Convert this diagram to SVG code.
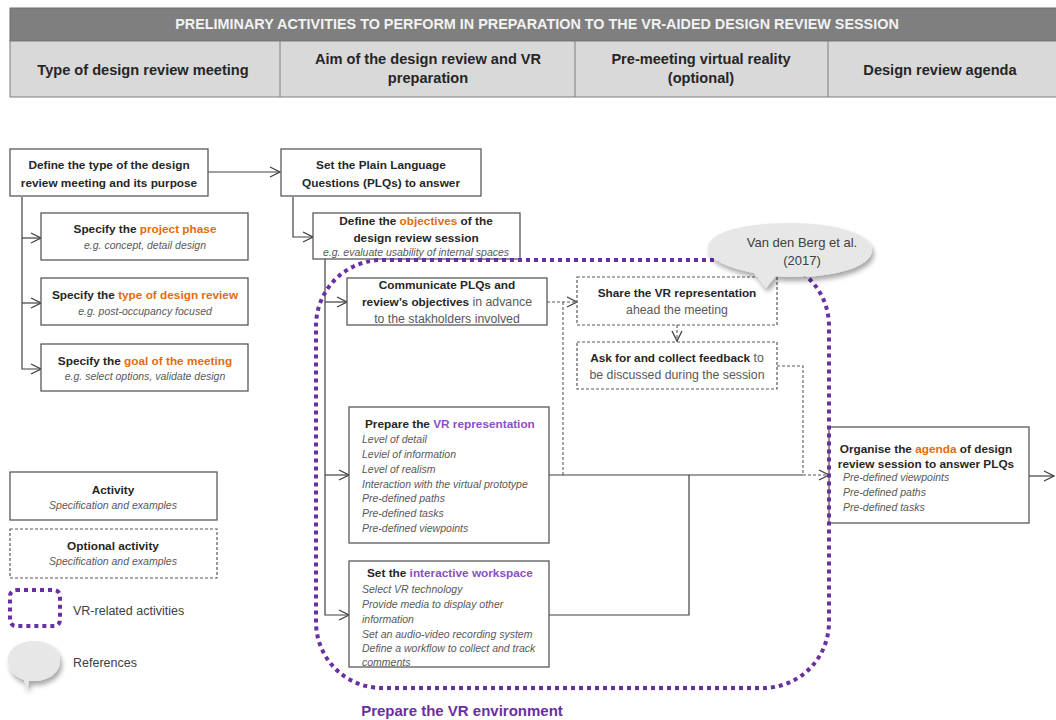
<svg xmlns="http://www.w3.org/2000/svg" width="1056" height="720" viewBox="0 0 1056 720">
  <style>
    text { font-family: "Liberation Sans Narrow", "Liberation Sans", Arial, sans-serif; }
    .b { font-weight: bold; fill: #262626; font-size: 11.8px; }
    .r { fill: #595959; font-size: 12.3px; }
    .i { font-style: italic; fill: #595959; font-size: 10.5px; }
    .or { fill: #e46c0a; }
    .pu { fill: #8a4fc8; }
    .hd { font-weight: bold; fill: #262626; font-size: 14.6px; }
    .box { fill: #ffffff; stroke: #595959; stroke-width: 1.3; }
    .opt { fill: #ffffff; stroke: #595959; stroke-width: 1.2; stroke-dasharray: 3 2; }
    .ln { fill: none; stroke: #404040; stroke-width: 1.2; }
    .dl { fill: none; stroke: #595959; stroke-width: 1.1; stroke-dasharray: 3 2; }
    .vr { fill: none; stroke: #6a2fa0; stroke-width: 4; stroke-dasharray: 4 4; }
    .bub { fill: #e7e7e7; filter: url(#shadow); }
    .c { text-anchor: middle; }
  </style>
  <defs>
    <marker id="arr" viewBox="0 0 12 12" refX="11" refY="6" markerWidth="12" markerHeight="12" markerUnits="userSpaceOnUse" orient="auto">
      <path d="M1,1 L11,6 L1,11" fill="none" stroke="#404040" stroke-width="1.3"/>
    </marker>
    <filter id="shadow" x="-20%" y="-30%" width="140%" height="170%">
      <feDropShadow dx="2" dy="4" stdDeviation="2.5" flood-color="#000000" flood-opacity="0.35"/>
    </filter>
  </defs>

  <rect width="1056" height="720" fill="#ffffff"/>

  <!-- Header table -->
  <g id="header">
    <rect x="10" y="8" width="1048" height="33" fill="#7f7f7f" stroke="#6d6d6d" stroke-width="1"/>
    <text x="537" y="29" class="c" font-weight="bold" font-size="14.4" fill="#f2f2f2">PRELIMINARY ACTIVITIES TO PERFORM IN PREPARATION TO THE VR-AIDED DESIGN REVIEW SESSION</text>
    <rect x="10" y="41" width="1048" height="56" fill="#d9d9d9" stroke="#7f7f7f" stroke-width="1"/>
    <path d="M280,41 V97 M575,41 V97 M828,41 V97" stroke="#7f7f7f" stroke-width="1"/>
    <text x="143" y="75" class="hd c">Type of design review meeting</text>
    <text x="428" y="64" class="hd c">Aim of the design review and VR</text>
    <text x="428" y="83" class="hd c">preparation</text>
    <text x="701" y="64" class="hd c">Pre-meeting virtual reality</text>
    <text x="701" y="83" class="hd c">(optional)</text>
    <text x="940" y="75" class="hd c">Design review agenda</text>
  </g>

  <!-- Connectors -->
  <g id="connectors">
    <path class="ln" d="M208,172 H280" marker-end="url(#arr)"/>
    <path class="ln" d="M22,197 V369 H41" marker-end="url(#arr)"/>
    <path class="ln" d="M22,238 H41" marker-end="url(#arr)"/>
    <path class="ln" d="M22,303 H41" marker-end="url(#arr)"/>
    <path class="ln" d="M293,197 V237 H313" marker-end="url(#arr)"/>
    <path class="ln" d="M325,259 V615 H349" marker-end="url(#arr)"/>
    <path class="ln" d="M325,302 H347" marker-end="url(#arr)"/>
    <path class="ln" d="M325,475 H349" marker-end="url(#arr)"/>
    <path class="dl" d="M547,302 H577" marker-end="url(#arr)"/>
    <path class="dl" d="M563,302 V475"/>
    <path class="dl" d="M677,325 V341" marker-end="url(#arr)"/>
    <path class="ln" d="M549,475 H803"/>
    <path class="dl" d="M777,366 H803 V475 H829" marker-end="url(#arr)"/>
    <path class="ln" d="M549,615 H689 V475"/>
    <path class="ln" d="M1029,476 H1054" marker-end="url(#arr)"/>
  </g>

  <!-- Meeting type -->
  <g id="define-type">
    <rect class="box" x="10" y="149" width="198" height="47"/>
    <text x="109" y="169" class="b c">Define the type of the design</text>
    <text x="109" y="187" class="b c">review meeting and its purpose</text>
  </g>
  <g id="project-phase">
    <rect class="box" x="41" y="213" width="207" height="47"/>
    <text x="145" y="233" class="b c">Specify the <tspan class="or">project phase</tspan></text>
    <text x="145" y="249" class="i c">e.g. concept, detail design</text>
  </g>
  <g id="review-type">
    <rect class="box" x="41" y="278" width="207" height="47"/>
    <text x="145" y="299" class="b c">Specify the <tspan class="or">type of design review</tspan></text>
    <text x="145" y="315" class="i c">e.g. post-occupancy focused</text>
  </g>
  <g id="meeting-goal">
    <rect class="box" x="41" y="344" width="207" height="47"/>
    <text x="145" y="365" class="b c">Specify the <tspan class="or">goal of the meeting</tspan></text>
    <text x="145" y="380" class="i c">e.g. select options, validate design</text>
  </g>

  <!-- Aim and VR preparation -->
  <g id="plqs">
    <rect class="box" x="281" y="149" width="200" height="47"/>
    <text x="381" y="169" class="b c">Set the Plain Language</text>
    <text x="381" y="187" class="b c">Questions (PLQs) to answer</text>
  </g>
  <g id="objectives">
    <rect class="box" x="313" y="213" width="207" height="46"/>
    <text x="416" y="225" class="b c">Define the <tspan class="or">objectives</tspan> of the</text>
    <text x="416" y="242" class="b c">design review session</text>
    <text x="416" y="256" class="i c">e.g. evaluate usability of internal spaces</text>
  </g>
  <g id="communicate">
    <rect class="box" x="347" y="278" width="200" height="47"/>
    <text x="447" y="289" class="b c">Communicate PLQs and</text>
    <text x="447" y="306" class="b c">review’s objectives<tspan class="r" font-weight="normal"> in advance</tspan></text>
    <text x="447" y="323" class="r c">to the stakholders involved</text>
  </g>
  <g id="vr-representation">
    <rect class="box" x="349" y="407" width="200" height="136"/>
    <text x="365" y="428" class="b">Prepare the <tspan class="pu">VR representation</tspan></text>
    <text x="362" y="443" class="i">Level of detail</text>
    <text x="362" y="458" class="i">Leviel of information</text>
    <text x="362" y="473" class="i">Level of realism</text>
    <text x="362" y="488" class="i">Interaction with the virtual prototype</text>
    <text x="362" y="502" class="i">Pre-defined paths</text>
    <text x="362" y="517" class="i">Pre-defined tasks</text>
    <text x="362" y="532" class="i">Pre-defined viewpoints</text>
  </g>
  <g id="workspace">
    <rect class="box" x="349" y="561" width="200" height="106"/>
    <text x="367" y="577" class="b">Set the <tspan class="pu">interactive workspace</tspan></text>
    <text x="362" y="593" class="i">Select VR technology</text>
    <text x="362" y="608" class="i">Provide media to display other</text>
    <text x="362" y="623" class="i">information</text>
    <text x="362" y="638" class="i">Set an audio-video recording system</text>
    <text x="362" y="652" class="i">Define a workflow to collect and track</text>
    <text x="362" y="666" class="i">comments</text>
  </g>

  <!-- Pre-meeting virtual reality -->
  <g id="share-vr">
    <rect class="opt" x="577" y="277" width="200" height="48"/>
    <text x="677" y="297" class="b c">Share the VR representation</text>
    <text x="677" y="314" class="r c">ahead the meeting</text>
  </g>
  <g id="feedback">
    <rect class="opt" x="577" y="342" width="200" height="47"/>
    <text x="677" y="362" class="b c">Ask for and collect feedback<tspan class="r" font-weight="normal"> to</tspan></text>
    <text x="677" y="379" class="r c">be discussed during the session</text>
  </g>

  <!-- Agenda -->
  <g id="agenda">
    <rect class="box" x="829" y="427" width="200" height="96"/>
    <text x="926" y="453" class="b c" font-size="12.3">Organise the <tspan class="or">agenda</tspan> of design</text>
    <text x="926" y="468" class="b c" font-size="12.3">review session to answer PLQs</text>
    <text x="843" y="481" class="i">Pre-defined viewpoints</text>
    <text x="843" y="496" class="i">Pre-defined paths</text>
    <text x="843" y="511" class="i">Pre-defined tasks</text>
  </g>

  <!-- VR environment boundary -->
  <g id="vr-environment">
    <rect class="vr" x="316" y="260" width="513" height="428" rx="66" ry="66"/>
    <text x="462" y="716" class="c" font-weight="bold" font-size="15" fill="#6a2fa0">Prepare the VR environment</text>
  </g>

  <!-- Reference callout -->
  <g id="reference">
    <path class="bub" d="M754,273 C718,266 706,256 708,246 C712,230 750,223 790,223 C838,223 872,235 872,250 C872,266 838,277 792,277 C786,277 781,277 776,276 L766,288 Z"/>
    <text x="802" y="247" class="c" font-size="13" fill="#404040">Van den Berg et al.</text>
    <text x="802" y="265" class="c" font-size="13" fill="#404040">(2017)</text>
  </g>

  <!-- Legend -->
  <g id="legend">
    <rect class="box" x="10" y="472" width="207" height="48"/>
    <text x="113" y="494" class="b c">Activity</text>
    <text x="113" y="509" class="i c">Specification and examples</text>
    <rect class="opt" x="10" y="529" width="207" height="49"/>
    <text x="113" y="550" class="b c">Optional activity</text>
    <text x="113" y="565" class="i c">Specification and examples</text>
    <rect class="vr" x="10" y="590" width="50" height="36" rx="6" ry="6"/>
    <text x="73" y="615" font-size="12.5" fill="#404040">VR-related activities</text>
    <path class="bub" d="M24,680 C12,676 8,668 8,660 C8,648 20,641 34,641 C50,641 60,650 60,661 C60,673 48,681 34,681 C32,681 30,681 29,681 L27,690 Z"/>
    <text x="73" y="667" font-size="12.5" fill="#404040">References</text>
  </g>
</svg>
